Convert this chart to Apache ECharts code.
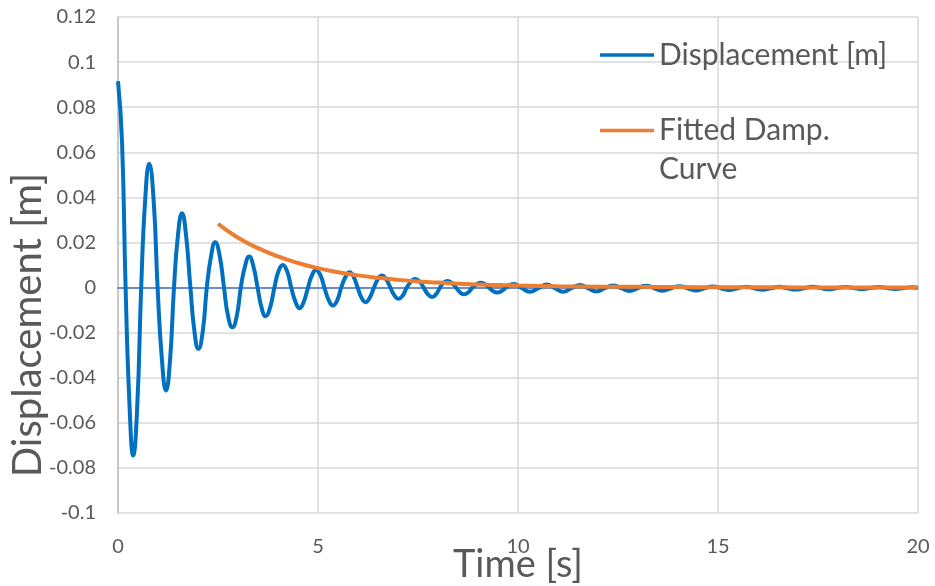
<!DOCTYPE html>
<html>
<head>
<meta charset="utf-8">
<title>Damped displacement</title>
<script src="https://cdn.jsdelivr.net/npm/echarts@6/dist/echarts.min.js"></script>
<style>
  html, body { margin: 0; padding: 0; background: #ffffff; }
  #chart { width: 935px; height: 586px; }
</style>
</head>
<body>
<div id="chart"></div>
<script>
// Measured response: time [s] and displacement [m]
var timeS = [
  0, 0.10, 0.19, 0.29, 0.38, 0.48, 0.58, 0.68,
  0.78, 0.89, 0.99, 1.10, 1.20, 1.30, 1.40, 1.50,
  1.60, 1.70, 1.81, 1.91, 2.01, 2.12, 2.22, 2.33,
  2.43, 2.54, 2.65, 2.75, 2.86, 2.97, 3.07, 3.18,
  3.28, 3.38, 3.49, 3.59, 3.69, 3.80, 3.91, 4.01,
  4.12, 4.23, 4.33, 4.44, 4.54, 4.64, 4.75, 4.85,
  4.95, 5.06, 5.16, 5.27, 5.37, 5.48, 5.58, 5.69,
  5.79, 5.89, 5.99, 6.09, 6.19, 6.29, 6.40, 6.50,
  6.60, 6.70, 6.81, 6.91, 7.01, 7.12, 7.22, 7.33,
  7.43, 7.54, 7.64, 7.75, 7.85, 7.95, 8.05, 8.14,
  8.24, 8.34, 8.45, 8.55, 8.65, 8.76, 8.86, 8.97,
  9.07, 9.17, 9.28, 9.38, 9.48, 9.58, 9.69, 9.79,
  9.89, 10.09, 10.30, 10.51, 10.72, 10.92, 11.13, 11.34,
  11.55, 11.75, 11.96, 12.17, 12.38, 12.58, 12.79, 12.99,
  13.20, 13.41, 13.62, 13.82, 14.03, 14.24, 14.45, 14.66,
  14.87, 15.07, 15.28, 15.49, 15.70, 15.90, 16.11, 16.32,
  16.53, 16.73, 16.94, 17.15, 17.36, 17.56, 17.77, 17.98,
  18.19, 18.39, 18.60, 18.81, 19.02, 19.22, 19.43, 19.64,
  19.85, 20.00
];
var displacementM = [
  0.0915, 0.0650, 0, -0.0530, -0.0745, -0.0530, 0, 0.0390,
  0.0549, 0.0390, 0, -0.0324, -0.0457, -0.0324, 0, 0.0234,
  0.0330, 0.0234, 0, -0.0193, -0.0272, -0.0193, 0, 0.0143,
  0.0201, 0.0143, 0, -0.0125, -0.0176, -0.0125, 0, 0.0098,
  0.0138, 0.0098, 0, -0.0090, -0.0127, -0.0090, 0, 0.0071,
  0.0100, 0.0071, 0, -0.0065, -0.0092, -0.0065, 0, 0.0055,
  0.0078, 0.0055, 0, -0.0057, -0.0080, -0.0057, 0, 0.0048,
  0.0068, 0.0048, 0, -0.0046, -0.0065, -0.0046, 0, 0.0038,
  0.0053, 0.0038, 0, -0.0035, -0.0050, -0.0035, 0, 0.0027,
  0.0038, 0.0027, 0, -0.0030, -0.0042, -0.0030, 0, 0.0021,
  0.0029, 0.0021, 0, -0.0021, -0.0030, -0.0021, 0, 0.0015,
  0.0021, 0.0015, -0.0001, -0.0016, -0.0022, -0.0016, -0.0002, 0.0011,
  0.0016, -0.0002, -0.0019, -0.0003, 0.0013, -0.0003, -0.0019, -0.0003,
  0.0011, -0.0003, -0.0017, -0.0003, 0.0009, -0.0003, -0.0015, -0.0003,
  0.0008, -0.0003, -0.0014, -0.0003, 0.0006, -0.0003, -0.0013, -0.0003,
  0.0005, -0.0003, -0.0011, -0.0003, 0.0004, -0.0003, -0.0010, -0.0003,
  0.0003, -0.0003, -0.0009, -0.0003, 0.0003, -0.0002, -0.0008, -0.0002,
  0.0002, -0.0002, -0.0007, -0.0002, 0.0002, -0.0002, -0.0006, -0.0002,
  0.0001, -0.0002
];

// Fitted exponential decay envelope
var fitTimeS = [2.5, 3, 3.5, 4, 4.5, 5, 5.5, 6, 6.5, 7, 7.5, 8, 9, 10, 11, 12, 13, 14, 15, 16, 17, 18, 19, 20];
var fitDisplacementM = [
  0.0283, 0.0221, 0.0175, 0.0138, 0.0109, 0.0086, 0.0068, 0.0054, 0.0043, 0.0034,
  0.0027, 0.0022, 0.0014, 0.0009, 0.0006, 0.0004, 0.0003, 0.0002, 0.00013, 0.0001,
  0.00007, 0.00005, 0.00004, 0.00003
];

// Axis ranges: [min, max, interval]
var xRange = [0, 20, 5];
var yRange = [-0.1, 0.12, 0.02];

var seriesNames = ['Displacement [m]', 'Fitted Damp. Curve'];

function pairs(xs, ys) {
  return xs.map(function (x, i) { return [x, ys[i]]; });
}

var FONT = 'Lato, "Open Sans", sans-serif';
var TEXT = '#595959';
var GRID = '#d9d9d9';
var BLUE = '#0070C0';
var ORANGE = '#ED7D31';

var chart = echarts.init(document.getElementById('chart'), null, { renderer: 'canvas' });

chart.setOption({
  animation: false,
  backgroundColor: '#ffffff',
  textStyle: { fontFamily: FONT, color: TEXT },
  grid: { left: 118, right: 17, top: 17, bottom: 73, containLabel: false, outerBoundsMode: 'none' },
  legend: [
    {
      data: [seriesNames[0]],
      left: 600, top: 40, padding: 0,
      icon: 'rect', itemWidth: 54, itemHeight: 3.5,
      itemStyle: { borderWidth: 0 },
      textStyle: { fontFamily: FONT, fontSize: 30, color: TEXT }
    },
    {
      // two-line entry: the swatch sits beside the first line
      data: [seriesNames[1]],
      left: 600, top: 111, padding: 0,
      icon: 'path://M0,0H54V3.5H0Z M0,42.5L0.01,42.5',
      itemWidth: 54, itemHeight: 42.5,
      itemStyle: { borderWidth: 0 },
      formatter: function () { return 'Fitted Damp.\nCurve'; },
      textStyle: { fontFamily: FONT, fontSize: 30, color: TEXT, lineHeight: 39 }
    }
  ],
  xAxis: [
    {
      type: 'value',
      min: xRange[0], max: xRange[1], interval: xRange[2],
      name: 'Time [s]', nameLocation: 'middle', nameGap: 33, nameMoveOverlap: false,
      nameTextStyle: { fontFamily: FONT, fontSize: 38, color: TEXT },
      axisLine: { show: false, onZero: false },
      axisTick: { show: false },
      axisLabel: { fontFamily: FONT, fontSize: 20, color: TEXT, margin: 24 },
      splitLine: { show: true, lineStyle: { color: GRID, width: 1.5 } }
    },
    {
      // horizontal axis line drawn through y = 0
      type: 'value',
      min: xRange[0], max: xRange[1],
      axisLine: { show: true, onZero: true, lineStyle: { color: '#4472C4', width: 1.5 } },
      axisTick: { show: false },
      axisLabel: { show: false },
      splitLine: { show: false }
    }
  ],
  yAxis: {
    type: 'value',
    min: yRange[0], max: yRange[1], interval: yRange[2],
    name: 'Displacement [m]', nameLocation: 'middle', nameGap: 70, nameMoveOverlap: false,
    nameTextStyle: { fontFamily: FONT, fontSize: 40, color: TEXT, padding: [0, 120, 0, 0] },
    axisLine: { show: true, lineStyle: { color: '#bfbfbf', width: 1.5 } },
    axisTick: { show: false },
    axisLabel: {
      fontFamily: FONT, fontSize: 20, color: TEXT, margin: 22,
      formatter: function (v) { return String(Math.round(v * 100) / 100); }
    },
    splitLine: { show: true, lineStyle: { color: GRID, width: 1.5 } }
  },
  series: [
    {
      name: seriesNames[0],
      type: 'line',
      data: pairs(timeS, displacementM),
      smooth: 0.5,
      symbol: 'none',
      lineStyle: { color: BLUE, width: 4 },
      itemStyle: { color: BLUE },
      z: 3
    },
    {
      name: seriesNames[1],
      type: 'line',
      data: pairs(fitTimeS, fitDisplacementM),
      smooth: 0.5,
      symbol: 'none',
      lineStyle: { color: ORANGE, width: 4 },
      itemStyle: { color: ORANGE },
      z: 4
    }
  ]
});
</script>
</body>
</html>
